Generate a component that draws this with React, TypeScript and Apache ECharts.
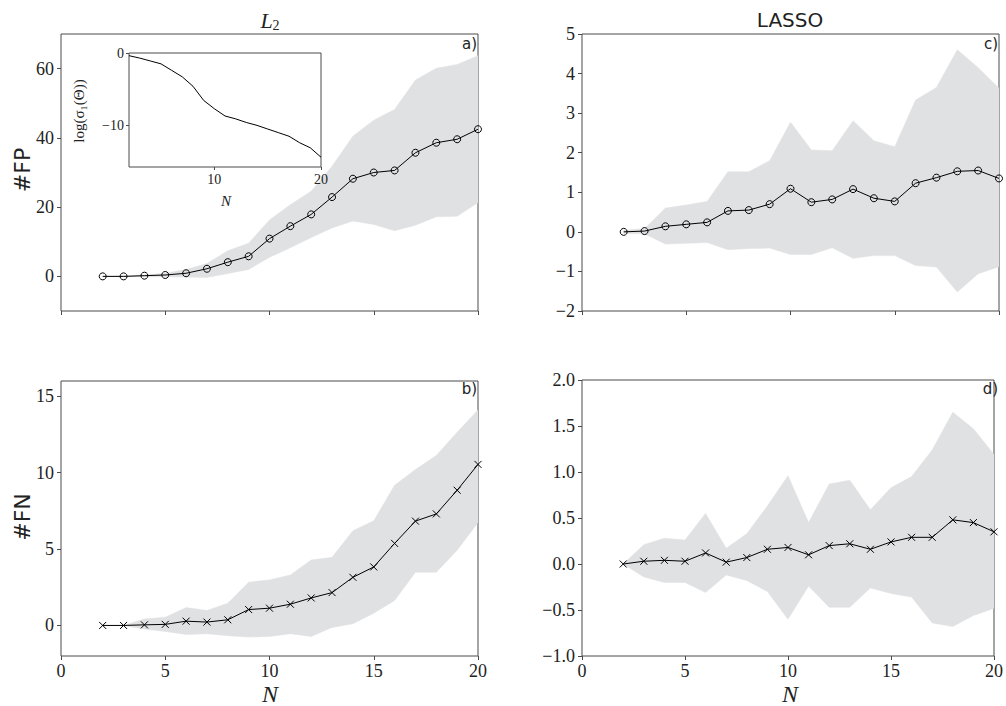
import React, { useEffect, useRef } from "react";
import * as echarts from "echarts";

// ---- data ----
const N = [2, 3, 4, 5, 6, 7, 8, 9, 10, 11, 12, 13, 14, 15, 16, 17, 18, 19, 20];

const fpL2Mean = [0, 0, 0.2, 0.4, 0.9, 2.2, 4.1, 5.8, 10.9, 14.5, 17.9, 22.9, 28.2, 30.0, 30.6, 35.7, 38.6, 39.6, 42.5];
const fpL2Upper = [0, 0.1, 0.4, 0.9, 2.0, 3.7, 7.4, 9.6, 16.3, 20.7, 24.6, 31.8, 40.5, 45.1, 48.2, 56.7, 60.1, 61.2, 63.7];
const fpL2Lower = [0, -0.1, -0.1, -0.1, -0.2, -0.3, 0.8, 2.0, 5.5, 8.3, 11.2, 14.0, 16.0, 15.0, 13.2, 14.8, 17.2, 17.4, 21.3];

const fpLassoMean = [0, 0.02, 0.14, 0.19, 0.24, 0.53, 0.55, 0.70, 1.09, 0.75, 0.82, 1.08, 0.85, 0.77, 1.23, 1.37, 1.53, 1.55, 1.35];
const fpLassoUpper = [0.04, 0.08, 0.6, 0.68, 0.77, 1.52, 1.52, 1.8, 2.77, 2.07, 2.05, 2.81, 2.3, 2.15, 3.33, 3.65, 4.6, 4.15, 3.63];
const fpLassoLower = [-0.04, -0.05, -0.31, -0.29, -0.27, -0.45, -0.42, -0.41, -0.57, -0.57, -0.40, -0.67, -0.6, -0.6, -0.85, -0.89, -1.52, -1.06, -0.88];

const fnL2Mean = [0, 0, 0.04, 0.07, 0.28, 0.22, 0.37, 1.04, 1.13, 1.39, 1.8, 2.15, 3.15, 3.83, 5.37, 6.83, 7.3, 8.85, 10.54];
const fnL2Upper = [0, 0, 0.43, 0.54, 1.17, 0.98, 1.46, 2.83, 2.98, 3.3, 4.28, 4.46, 6.2, 6.85, 9.17, 10.2, 11.13, 12.65, 14.1];
const fnL2Lower = [0, 0, -0.24, -0.39, -0.6, -0.54, -0.67, -0.76, -0.72, -0.54, -0.72, -0.13, 0.11, 0.8, 1.63, 3.48, 3.48, 4.93, 6.74];

const fnLassoMean = [0, 0.03, 0.04, 0.03, 0.12, 0.02, 0.07, 0.16, 0.18, 0.10, 0.20, 0.22, 0.16, 0.24, 0.29, 0.29, 0.48, 0.45, 0.35];
const fnLassoUpper = [0, 0.21, 0.28, 0.26, 0.55, 0.17, 0.33, 0.63, 0.96, 0.45, 0.87, 0.91, 0.59, 0.83, 0.95, 1.24, 1.65, 1.47, 1.19];
const fnLassoLower = [0, -0.14, -0.2, -0.2, -0.31, -0.12, -0.18, -0.3, -0.6, -0.24, -0.47, -0.47, -0.26, -0.32, -0.36, -0.64, -0.68, -0.56, -0.48];

const logSigma = [-0.37, -0.7, -1.1, -1.5, -2.4, -3.3, -4.6, -6.55, -7.7, -8.7, -9.1, -9.6, -10.0, -10.5, -11.0, -11.5, -12.4, -13.1, -14.4];

const fpL2Ticks = [0, 20, 40, 60];
const fnL2Ticks = [0, 5, 10, 15];
const insetXTicks = [10, 20];
const insetYTicks = [0, -10];

const SERIF = '"Liberation Serif", "DejaVu Serif", serif';
const SANS = '"DejaVu Sans", sans-serif';
const BAND = "#e0e1e3";
const SPINE = "#4a4a4a";
const TXT = "#222";

const minus = (v: number | string) => String(v).replace("-", "\u2212");

function bandSeries(idx: number, lo: number[], hi: number[]) {
  return {
    type: "custom",
    xAxisIndex: idx,
    yAxisIndex: idx,
    data: N.map((n, k) => [n, lo[k], hi[k]]),
    encode: { x: 0, y: [1, 2] },
    clip: true,
    silent: true,
    z: 1,
    renderItem: (params: any, api: any) => {
      if (params.dataIndex !== 0) return null;
      const pts: number[][] = [];
      for (let k = 0; k < N.length; k++) pts.push(api.coord([N[k], hi[k]]));
      for (let k = N.length - 1; k >= 0; k--) pts.push(api.coord([N[k], lo[k]]));
      return {
        type: "polygon",
        shape: { points: pts },
        style: { fill: BAND, stroke: BAND, lineWidth: 0.5 },
      };
    },
  };
}

function meanSeries(idx: number, vals: number[], cross: boolean) {
  return {
    type: "line",
    xAxisIndex: idx,
    yAxisIndex: idx,
    data: N.map((n, k) => [n, vals[k]]),
    symbol: cross ? "path://M0,0L10,10M10,0L0,10" : "circle",
    symbolSize: 7,
    z: 3,
    lineStyle: { color: "#000", width: 1 },
    itemStyle: { color: "transparent", borderColor: "#000", borderWidth: 1 },
    clip: true,
  };
}

function xAxis(grid: number, labels: boolean) {
  return {
    type: "value",
    gridIndex: grid,
    position: "bottom",
    min: 0,
    max: 20,
    interval: 5,
    axisLine: { show: false, onZero: false },
    axisTick: { show: true, length: 4, lineStyle: { color: SPINE } },
    axisLabel: {
      show: labels,
      fontFamily: SERIF,
      fontSize: 18,
      color: TXT,
      margin: 6,
    },
    splitLine: { show: false },
  };
}

function yAxisBase(grid: number) {
  return {
    type: "value",
    gridIndex: grid,
    position: "left",
    axisLine: { show: false, onZero: false },
    axisTick: { show: true, length: 4, lineStyle: { color: SPINE } },
    axisLabel: {
      fontFamily: SERIF,
      fontSize: 18,
      color: TXT,
      margin: 7,
      formatter: (v: number) => minus(v),
    },
    splitLine: { show: false },
  };
}

const gridStyle = { show: true, borderColor: SPINE, borderWidth: 1, backgroundColor: "transparent" };

export default function App() {
  const ref = useRef<HTMLDivElement>(null);

  useEffect(() => {
    document.body.style.margin = "0";
    if (!ref.current) return;
    const chart = echarts.init(ref.current, undefined, { renderer: "svg" });

    const option: any = {
      animation: false,
      backgroundColor: "#fff",
      grid: [
        { left: 61, top: 34, width: 417, height: 277, ...gridStyle },
        { left: 582, top: 34, width: 417, height: 277, ...gridStyle },
        { left: 61, top: 381, width: 417, height: 275, ...gridStyle },
        { left: 582, top: 380, width: 417, height: 276, ...gridStyle },
        { left: 129, top: 53, width: 192, height: 114, ...gridStyle, backgroundColor: "#fff", z: 5 },
      ],
      xAxis: [
        xAxis(0, false),
        xAxis(1, false),
        xAxis(2, true),
        xAxis(3, true),
        {
          type: "value",
          gridIndex: 4,
          position: "bottom",
          min: 2,
          max: 20,
          axisLine: { show: false, onZero: false },
          axisTick: { show: true, length: 3, customValues: insetXTicks, lineStyle: { color: SPINE } },
          axisLabel: { fontFamily: SERIF, fontSize: 14, color: TXT, margin: 5, customValues: insetXTicks },
          splitLine: { show: false },
          z: 6,
        },
      ],
      yAxis: [
        {
          ...yAxisBase(0),
          min: -10,
          max: 70,
          axisTick: { show: true, length: 4, customValues: fpL2Ticks, lineStyle: { color: SPINE } },
          axisLabel: { ...yAxisBase(0).axisLabel, customValues: fpL2Ticks },
        },
        { ...yAxisBase(1), min: -2, max: 5, interval: 1 },
        {
          ...yAxisBase(2),
          min: -2,
          max: 16,
          axisTick: { show: true, length: 4, customValues: fnL2Ticks, lineStyle: { color: SPINE } },
          axisLabel: { ...yAxisBase(2).axisLabel, customValues: fnL2Ticks },
        },
        {
          ...yAxisBase(3),
          min: -1,
          max: 2,
          interval: 0.5,
          axisLabel: { ...yAxisBase(3).axisLabel, formatter: (v: number) => minus(v.toFixed(1)) },
        },
        {
          type: "value",
          gridIndex: 4,
          position: "left",
          min: -15.75,
          max: 0,
          axisLine: { show: false, onZero: false },
          axisTick: { show: true, length: 3, customValues: insetYTicks, lineStyle: { color: SPINE } },
          axisLabel: {
            fontFamily: SERIF,
            fontSize: 14,
            color: TXT,
            margin: 5,
            customValues: insetYTicks,
            formatter: (v: number) => minus(v),
          },
          splitLine: { show: false },
          z: 6,
        },
      ],
      series: [
        bandSeries(0, fpL2Lower, fpL2Upper),
        meanSeries(0, fpL2Mean, false),
        bandSeries(1, fpLassoLower, fpLassoUpper),
        meanSeries(1, fpLassoMean, false),
        bandSeries(2, fnL2Lower, fnL2Upper),
        meanSeries(2, fnL2Mean, true),
        bandSeries(3, fnLassoLower, fnLassoUpper),
        meanSeries(3, fnLassoMean, true),
        {
          type: "line",
          xAxisIndex: 4,
          yAxisIndex: 4,
          data: N.map((n, k) => [n, logSigma[k]]),
          symbol: "none",
          z: 7,
          lineStyle: { color: "#000", width: 1 },
        },
      ],
      graphic: [
        {
          type: "text",
          x: 270,
          y: 20,
          style: {
            text: "{i|L}{s|2}",
            align: "center",
            verticalAlign: "middle",
            rich: {
              i: { fontFamily: SERIF, fontStyle: "italic", fontSize: 22, fill: TXT },
              s: { fontFamily: SERIF, fontSize: 14, fill: TXT, padding: [10, 0, 0, 0] },
            },
          },
        },
        {
          type: "text",
          x: 790,
          y: 20,
          style: { text: "LASSO", fontFamily: SANS, fontSize: 20, fill: TXT, align: "center", verticalAlign: "middle" },
        },
        {
          type: "text",
          x: 22,
          y: 170,
          rotation: Math.PI / 2,
          style: { text: "#FP", fontFamily: SANS, fontSize: 22, fill: TXT, align: "center", verticalAlign: "middle" },
        },
        {
          type: "text",
          x: 22,
          y: 517,
          rotation: Math.PI / 2,
          style: { text: "#FN", fontFamily: SANS, fontSize: 22, fill: TXT, align: "center", verticalAlign: "middle" },
        },
        {
          type: "text",
          x: 270,
          y: 694,
          style: { text: "N", fontFamily: SERIF, fontStyle: "italic", fontSize: 24, fill: TXT, align: "center", verticalAlign: "middle" },
        },
        {
          type: "text",
          x: 790,
          y: 694,
          style: { text: "N", fontFamily: SERIF, fontStyle: "italic", fontSize: 24, fill: TXT, align: "center", verticalAlign: "middle" },
        },
        { type: "text", x: 477, y: 44, style: { text: "a)", fontFamily: SANS, fontSize: 15, fill: TXT, align: "right", verticalAlign: "middle" } },
        { type: "text", x: 998, y: 44, style: { text: "c)", fontFamily: SANS, fontSize: 15, fill: TXT, align: "right", verticalAlign: "middle" } },
        { type: "text", x: 477, y: 389, style: { text: "b)", fontFamily: SANS, fontSize: 15, fill: TXT, align: "right", verticalAlign: "middle" } },
        { type: "text", x: 998, y: 389, style: { text: "d)", fontFamily: SANS, fontSize: 15, fill: TXT, align: "right", verticalAlign: "middle" } },
        {
          type: "text",
          x: 226,
          y: 201,
          z: 10,
          style: { text: "N", fontFamily: SERIF, fontStyle: "italic", fontSize: 15, fill: TXT, align: "center", verticalAlign: "middle" },
        },
        {
          type: "text",
          x: 79,
          y: 111,
          z: 10,
          rotation: Math.PI / 2,
          style: { text: "log(\u03c3\u2081(\u0398))", fontFamily: SERIF, fontSize: 15, fill: TXT, align: "center", verticalAlign: "middle" },
        },
      ],
    };

    chart.setOption(option);
    return () => chart.dispose();
  }, []);

  return <div ref={ref} style={{ width: 1006, height: 706 }} />;
}
